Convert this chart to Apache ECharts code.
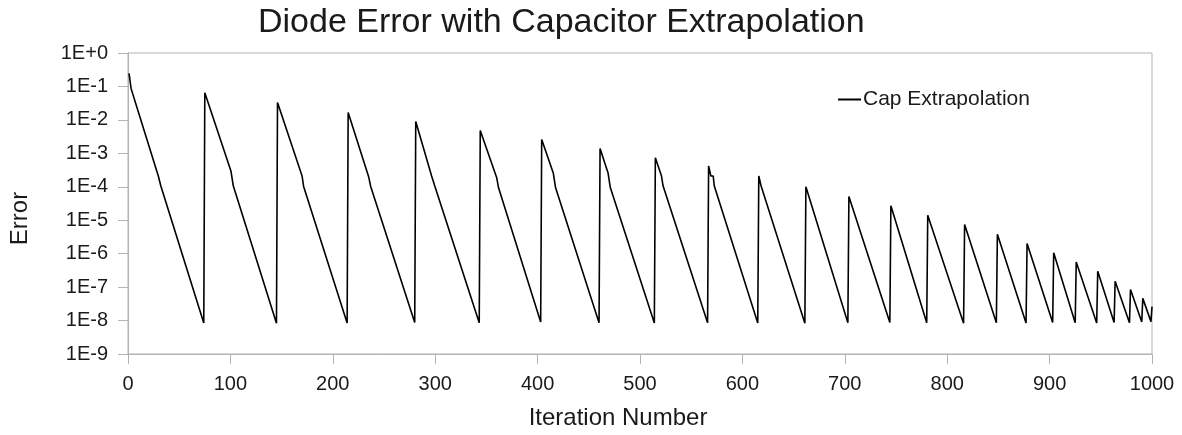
<!DOCTYPE html>
<html>
<head>
<meta charset="utf-8">
<title>Diode Error with Capacitor Extrapolation</title>
<script src="https://cdn.jsdelivr.net/npm/echarts@6/dist/echarts.min.js"></script>
<style>
  html, body { margin: 0; padding: 0; background: #fff; }
  #chart { width: 1182px; height: 435px; }
</style>
</head>
<body>
<div id="chart"></div>
<script>
// iteration number of each point
var iterations = [
    1, 3, 5, 7, 29.6, 32, 74,
    75, 100.6, 102.8, 145,
    146, 170, 171.5, 214,
    215, 235, 237, 280,
    281, 296.5, 299.5, 343,
    344, 360, 361.8, 403,
    404, 415.3, 417.5, 460,
    461, 468.8, 471, 514,
    515, 521, 522.5, 566,
    567, 569.2, 571.5, 572.5, 615,
    616, 617.3, 618.2, 661,
    662, 703,
    704, 744,
    745, 780,
    781, 816,
    817, 848,
    849, 877,
    878, 903,
    904, 925,
    926, 946,
    947, 963,
    964, 978,
    979, 990,
    991, 999,
    1000
];
// error at each point
var errors = [
    0.245, 0.087, 0.055, 0.035, 2.1e-4, 1.07e-4, 8.5e-9,
    6.5e-2, 2.9e-4, 1.07e-4, 8.3e-9,
    3.3e-2, 2.1e-4, 1.02e-4, 8.5e-9,
    1.66e-2, 2.0e-4, 1.02e-4, 8.8e-9,
    9.0e-3, 2.1e-4, 1.07e-4, 8.6e-9,
    4.8e-3, 1.9e-4, 9.5e-5, 9.0e-9,
    2.6e-3, 2.6e-4, 9.5e-5, 8.6e-9,
    1.4e-3, 2.6e-4, 9.5e-5, 8.4e-9,
    7.4e-4, 2.1e-4, 1.07e-4, 8.6e-9,
    4.2e-4, 2.1e-4, 2.1e-4, 1.07e-4, 8.5e-9,
    2.1e-4, 1.9e-4, 1.07e-4, 8.3e-9,
    1.0e-4, 8.6e-9,
    5.1e-5, 8.8e-9,
    2.7e-5, 8.6e-9,
    1.4e-5, 8.3e-9,
    7.4e-6, 8.6e-9,
    3.8e-6, 8.5e-9,
    2.0e-6, 8.8e-9,
    1.07e-6, 8.6e-9,
    5.6e-7, 8.5e-9,
    3.0e-7, 8.8e-9,
    1.5e-7, 8.6e-9,
    8.5e-8, 9.0e-9,
    4.6e-8, 9.3e-9,
    2.6e-8
];
var xTicks = [0, 100, 200, 300, 400, 500, 600, 700, 800, 900, 1000];
var seriesName = 'Cap Extrapolation';

var chartDom = document.getElementById('chart');
var chart = echarts.init(chartDom, null, { renderer: 'canvas' });

var points = [];
for (var i = 0; i < iterations.length; i++) {
    points.push([iterations[i], errors[i]]);
}

var fontName = '"Liberation Sans", Arial, sans-serif';
var textColor = '#1a1a1a';
var axisGray = '#b3b3b3';

var option = {
    animation: false,
    backgroundColor: '#fff',
    textStyle: { fontFamily: fontName },
    title: {
        text: 'Diode Error with Capacitor Extrapolation',
        left: 253,
        top: 1,
        textStyle: { fontSize: 34, fontWeight: 'normal', color: textColor, fontFamily: fontName }
    },
    legend: {
        left: 833,
        top: 84,
        itemWidth: 23,
        itemHeight: 2,
        itemGap: 10,
        icon: 'rect',
        data: [{ name: seriesName, icon: 'rect' }],
        itemStyle: { color: '#000' },
        textStyle: { fontSize: 21, color: textColor, fontFamily: fontName, padding: [0, 0, 0, -3] }
    },
    grid: {
        left: 128,
        right: 30,
        top: 53,
        bottom: 79,
        show: true,
        borderColor: axisGray,
        borderWidth: 1,
        containLabel: false
    },
    xAxis: {
        type: 'value',
        min: xTicks[0],
        max: xTicks[xTicks.length - 1],
        interval: 100,
        name: 'Iteration Number',
        nameLocation: 'middle',
        nameGap: 52,
        nameTextStyle: { fontSize: 24, color: textColor, fontFamily: fontName, padding: [0, 44, 0, 0] },
        axisLine: { show: true, lineStyle: { color: axisGray, width: 1 } },
        axisTick: { show: true, inside: false, length: 10, lineStyle: { color: axisGray } },
        axisLabel: {
            fontSize: 20, color: textColor, margin: 20, fontFamily: fontName,
            formatter: function (v) { return String(v); }
        },
        splitLine: { show: false }
    },
    yAxis: {
        type: 'log',
        logBase: 10,
        min: 1e-9,
        max: 1,
        name: 'Error',
        nameLocation: 'middle',
        nameGap: 96,
        nameRotate: 90,
        nameTextStyle: { fontSize: 24, color: textColor, fontFamily: fontName, padding: [0, 30, 0, 0] },
        axisLine: { show: true, lineStyle: { color: axisGray, width: 1 } },
        axisTick: { show: true, inside: false, length: 10, lineStyle: { color: axisGray } },
        axisLabel: {
            fontSize: 20,
            color: textColor,
            margin: 20,
            fontFamily: fontName,
            formatter: function (v) {
                var e = Math.round(Math.log10(v));
                return '1E' + (e >= 0 ? '+' : '') + e;
            }
        },
        splitLine: { show: false }
    },
    series: [
        {
            name: seriesName,
            type: 'line',
            data: points,
            symbol: 'none',
            showSymbol: false,
            lineStyle: { color: '#000', width: 1.6 },
            itemStyle: { color: '#000' }
        }
    ]
};

chart.setOption(option);
</script>
</body>
</html>
